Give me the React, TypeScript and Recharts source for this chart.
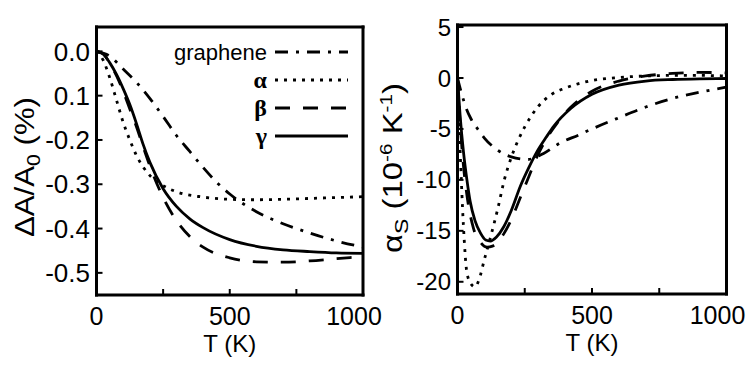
import { LineChart, Line, XAxis, YAxis, Legend } from "recharts";

const FONT = "'Liberation Sans', Arial, sans-serif";

// shared T axis
const tTicks = [0, 250, 500, 750, 1000];
const tTickLabels = ["0", "", "500", "", "1000"];

// left panel: relative area change (%)
const areaTicks = [0, -0.1, -0.2, -0.3, -0.4, -0.5];
const areaTickLabels = ["0.0", "0.1", "-0.2", "-0.3", "-0.4", "-0.5"];

// right panel: areal thermal expansion (1e-6 / K)
const alphaTicks = [5, 0, -5, -10, -15, -20];
const alphaTickLabels = ["5", "0", "-5", "-10", "-15", "-20"];

const seriesNames = ["graphene", "α", "β", "γ"];

// [T, dA/A0]
const areaGraphene = [
  [0, 0], [50, -0.011], [100, -0.04], [150, -0.07], [200, -0.106], [250, -0.147],
  [300, -0.19], [350, -0.226], [400, -0.262], [450, -0.295], [500, -0.322],
  [600, -0.362], [700, -0.389], [800, -0.41], [900, -0.428], [1000, -0.442],
];
const areaAlpha = [
  [0, 0], [25, -0.02], [50, -0.06], [75, -0.11], [100, -0.16], [125, -0.2],
  [150, -0.235], [200, -0.28], [250, -0.303], [300, -0.317], [400, -0.329],
  [500, -0.334], [600, -0.335], [700, -0.334], [800, -0.332], [900, -0.33], [1000, -0.328],
];
const areaBeta = [
  [0, 0], [25, -0.006], [50, -0.027], [75, -0.055], [100, -0.09], [125, -0.13],
  [150, -0.17], [175, -0.215], [200, -0.258], [250, -0.33], [300, -0.382],
  [350, -0.418], [400, -0.442], [500, -0.466], [600, -0.475], [700, -0.476],
  [800, -0.473], [900, -0.468], [1000, -0.463],
];
const areaGamma = [
  [0, 0], [25, -0.006], [50, -0.026], [75, -0.052], [100, -0.084], [125, -0.12],
  [150, -0.163], [175, -0.21], [200, -0.25], [250, -0.31], [300, -0.35],
  [350, -0.378], [400, -0.398], [500, -0.425], [600, -0.44], [700, -0.448],
  [800, -0.452], [900, -0.455], [1000, -0.456],
];

// [T, alpha_S]
const expGraphene = [
  [0, 0], [15, -1.5], [30, -2.8], [50, -4.0], [75, -5.0], [100, -5.9], [150, -7.1],
  [200, -7.75], [260, -8.0], [320, -7.4], [380, -6.4], [450, -5.6], [500, -5.0],
  [600, -3.9], [700, -2.85], [800, -2.0], [900, -1.4], [1000, -0.9],
];
const expAlpha = [
  [0, 0], [5, -4], [10, -7.3], [22, -14.5], [35, -19.1], [50, -20.2], [65, -20.5],
  [80, -19.8], [100, -17.8], [125, -15.4], [150, -12.8], [175, -9.9], [200, -7.8],
  [250, -4.8], [300, -2.8], [350, -1.6], [400, -1.0], [500, -0.25], [600, 0.05],
  [700, 0.2], [800, 0.25], [900, 0.25], [1000, 0.2],
];
const expBeta = [
  [0, 0], [10, -4.5], [20, -8], [35, -11.5], [60, -14.8], [85, -16.1], [110, -16.6],
  [130, -16.5], [150, -16.1], [172, -15.3], [200, -13.9], [234, -11.7], [265, -9.7],
  [296, -7.7], [330, -6.0], [371, -4.4], [420, -2.9], [500, -1.3], [600, -0.3],
  [700, 0.2], [800, 0.45], [900, 0.55], [1000, 0.5],
];
const expGamma = [
  [0, 0], [10, -3.8], [22, -7.2], [35, -10], [47, -12.1], [65, -14], [85, -15.2],
  [105, -15.9], [122, -16.0], [145, -15.6], [172, -14.6], [200, -13], [234, -10.6],
  [265, -8.8], [296, -7.2], [330, -5.8], [359, -4.7], [421, -3.0], [500, -1.6],
  [600, -0.7], [700, -0.3], [800, -0.15], [900, -0.08], [1000, -0.05],
];

// line styles, same order as seriesNames
const dashes = ["13 8 3 8", "3 6", "15 13", undefined];

const toRows = (pts: number[][]) => pts.map(([T, v]) => ({ T, v }));

const axisLine = { stroke: "#000", strokeWidth: 3, strokeLinecap: "square" as const };
const tickLine = { stroke: "#000", strokeWidth: 2 };

// the last T label sits a little left of its tick, as in the original figure
function TTick({ x, y, payload, index }: any) {
  const label = tTickLabels[tTicks.indexOf(payload.value)] ?? "";
  const shift = index === tTicks.length - 1 ? -9 : 0;
  return (
    <text x={x + shift} y={y} dy="0.71em" textAnchor="middle" fontFamily={FONT} fontSize={25} fill="#000">
      {label}
    </text>
  );
}

function AreaTitle({ viewBox }: any) {
  const x = viewBox.x - 2.5;
  const y = viewBox.y + viewBox.height / 2 + 6;
  return (
    <text
      x={x}
      y={y}
      transform={`rotate(-90 ${x} ${y})`}
      textAnchor="middle"
      fontFamily={FONT}
      fontSize={28}
      fill="#000"
      textLength={140}
      lengthAdjust="spacingAndGlyphs"
    >
      ΔA/A<tspan dy={6} fontSize={19}>0</tspan>
      <tspan dy={-6}> (%)</tspan>
    </text>
  );
}

function ExpTitle({ viewBox }: any) {
  const x = viewBox.x + 4.5;
  const y = viewBox.y + viewBox.height / 2 + 8.5;
  return (
    <text
      x={x}
      y={y}
      transform={`rotate(-90 ${x} ${y})`}
      textAnchor="middle"
      fontFamily={FONT}
      fontSize={27}
      fill="#000"
      textLength={170}
      lengthAdjust="spacingAndGlyphs"
    >
      α<tspan dy={6} fontSize={19}>S</tspan>
      <tspan dy={-6}> (10</tspan>
      <tspan dy={-10} fontSize={17}>-6</tspan>
      <tspan dy={10}> K</tspan>
      <tspan dy={-10} fontSize={17}>-1</tspan>
      <tspan dy={10}>)</tspan>
    </text>
  );
}

function SeriesKey() {
  const rowY = [17, 45, 73, 101];
  return (
    <svg width={180} height={120} style={{ overflow: "visible" }}>
      {seriesNames.map((name, i) => (
        <g key={name}>
          <text
            x={87}
            y={rowY[i]}
            dy="0.35em"
            textAnchor="end"
            fontFamily={i === 0 ? FONT : "'Liberation Serif', serif"}
            fontWeight={i === 0 ? "normal" : "bold"}
            fontSize={i === 0 ? 22 : 24}
            fill="#000"
          >
            {name}
          </text>
          <line
            x1={95}
            x2={168}
            y1={rowY[i]}
            y2={rowY[i]}
            stroke="#000"
            strokeWidth={3}
            strokeDasharray={dashes[i]}
          />
        </g>
      ))}
    </svg>
  );
}

interface PanelProps {
  left: number;
  width: number;
  margin: { top: number; right: number; bottom: number; left: number };
  sets: number[][][];
  domain: [number, number];
  ticks: number[];
  tickLabels: string[];
  tickFont: number;
  title: (p: any) => any;
  legend?: boolean;
}

function Panel({ left, width, margin, sets, domain, ticks, tickLabels, tickFont, title, legend }: PanelProps) {
  return (
    <LineChart
      width={width}
      height={367}
      margin={margin}
      style={{ position: "absolute", left, top: 0, overflow: "visible" }}
    >
      <XAxis
        xAxisId="b"
        type="number"
        dataKey="T"
        domain={[0, 1000]}
        ticks={tTicks}
        interval={0}
        height={60}
        tickSize={-6}
        tickMargin={18}
        axisLine={axisLine}
        tickLine={tickLine}
        tick={(p: any) => <TTick {...p} />}
        label={{ value: "T (K)", position: "bottom", offset: -20, fill: "#000", fontSize: 24, fontFamily: FONT }}
      />
      <XAxis
        xAxisId="t"
        orientation="top"
        type="number"
        dataKey="T"
        domain={[0, 1000]}
        ticks={tTicks}
        interval={0}
        tickFormatter={() => ""}
        height={1}
        tickSize={-6}
        axisLine={axisLine}
        tickLine={tickLine}
      />
      <YAxis
        yAxisId="l"
        type="number"
        domain={domain}
        ticks={ticks}
        interval={0}
        tickFormatter={(v: number) => tickLabels[ticks.indexOf(v)] ?? ""}
        width={60}
        tickSize={-6}
        tickMargin={12.5}
        axisLine={axisLine}
        tickLine={tickLine}
        tick={{ fill: "#000", fontSize: tickFont, fontFamily: FONT }}
        label={title}
      />
      <YAxis
        yAxisId="r"
        orientation="right"
        type="number"
        domain={domain}
        ticks={ticks}
        interval={0}
        tickFormatter={() => ""}
        width={1}
        tickSize={-6}
        axisLine={axisLine}
        tickLine={tickLine}
      />
      {sets.map((pts, i) => (
        <Line
          key={seriesNames[i]}
          name={seriesNames[i]}
          xAxisId="b"
          yAxisId="l"
          data={toRows(pts)}
          dataKey="v"
          type="monotone"
          stroke="#000"
          strokeWidth={2.8}
          strokeDasharray={dashes[i]}
          dot={false}
          activeDot={false}
          isAnimationActive={false}
        />
      ))}
      {legend && (
        <Legend
          layout="vertical"
          align="center"
          verticalAlign="middle"
          content={() => <SeriesKey />}
          wrapperStyle={{ left: 180, top: 35, width: 180, height: 120 }}
        />
      )}
    </LineChart>
  );
}

export default function App() {
  return (
    <div
      style={{
        position: "absolute",
        left: 0,
        top: 0,
        width: 747,
        height: 367,
        background: "#fff",
        overflow: "hidden",
      }}
    >
      <style>{`.recharts-surface, .recharts-wrapper { overflow: visible !important; }`}</style>
      <Panel
        left={0}
        width={380}
        margin={{ top: 26, right: 16, bottom: 12, left: 36.5 }}
        sets={[areaGraphene, areaAlpha, areaBeta, areaGamma]}
        domain={[-0.55, 0.055]}
        ticks={areaTicks}
        tickLabels={areaTickLabels}
        tickFont={26}
        title={(p: any) => <AreaTitle viewBox={p.viewBox} />}
        legend
      />
      <Panel
        left={380}
        width={367}
        margin={{ top: 24, right: 19.5, bottom: 13, left: 17.5 }}
        sets={[expGraphene, expAlpha, expBeta, expGamma]}
        domain={[-21.2, 5.2]}
        ticks={alphaTicks}
        tickLabels={alphaTickLabels}
        tickFont={24}
        title={(p: any) => <ExpTitle viewBox={p.viewBox} />}
      />
    </div>
  );
}
